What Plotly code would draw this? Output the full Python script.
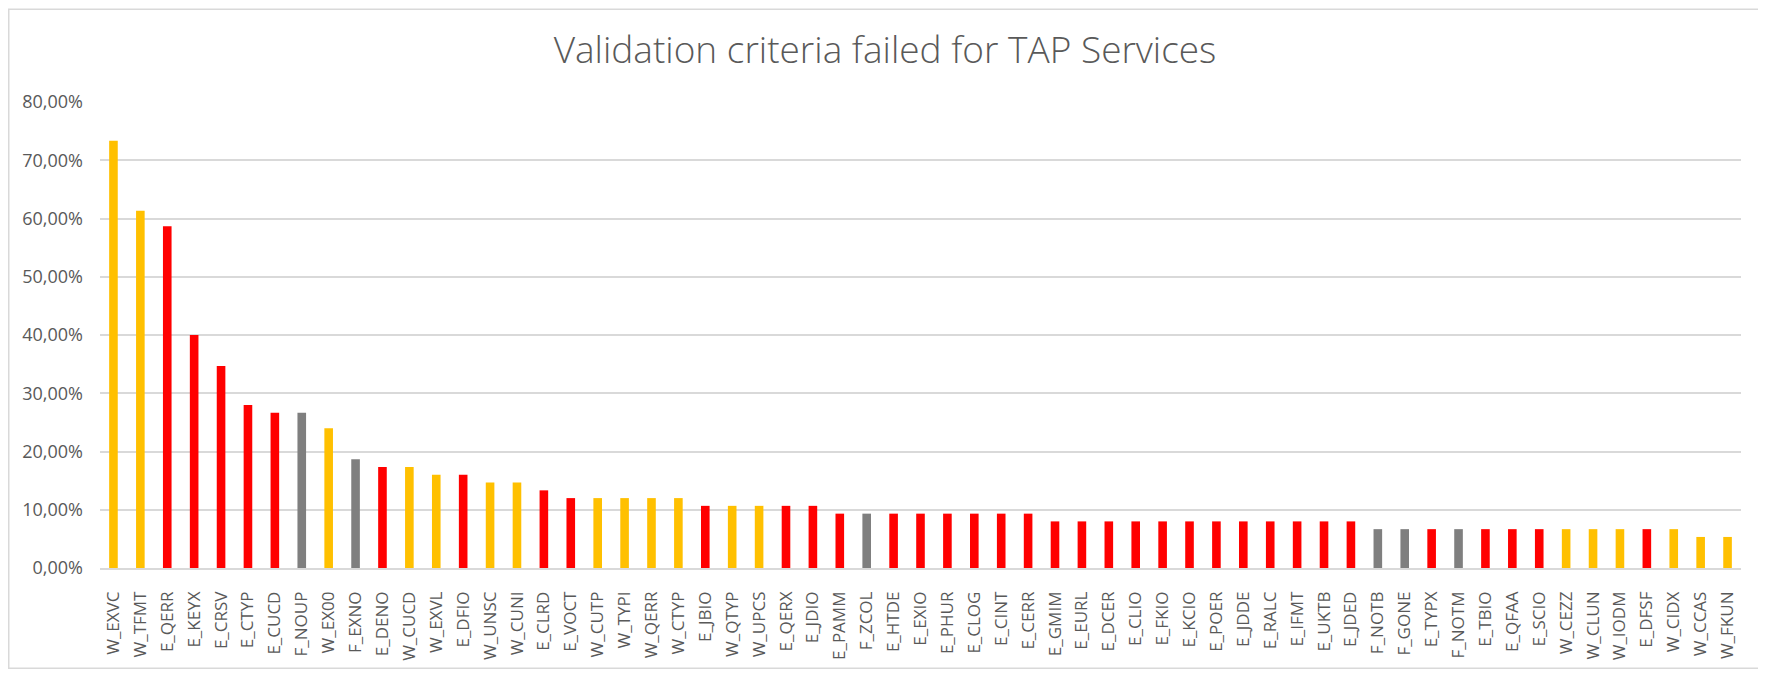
import plotly.graph_objects as go

categories = ["W_EXVC", "W_TFMT", "E_QERR", "E_KEYX", "E_CRSV", "E_CTYP", "E_CUCD", "F_NOUP",
              "W_EX00", "F_EXNO", "E_DENO", "W_CUCD", "W_EXVL", "E_DFIO", "W_UNSC", "W_CUNI",
              "E_CLRD", "E_VOCT", "W_CUTP", "W_TYPI", "W_QERR", "W_CTYP", "E_JBIO", "W_QTYP",
              "W_UPCS", "E_QERX", "E_JDIO", "E_PAMM", "F_ZCOL", "E_HTDE", "E_EXIO", "E_PHUR",
              "E_CLOG", "E_CINT", "E_CERR", "E_GMIM", "E_EURL", "E_DCER", "E_CLIO", "E_FKIO",
              "E_KCIO", "E_POER", "E_JDDE", "E_RALC", "E_IFMT", "E_UKTB", "E_JDED", "F_NOTB",
              "F_GONE", "E_TYPX", "F_NOTM", "E_TBIO", "E_QFAA", "E_SCIO", "W_CEZZ", "W_CLUN",
              "W_IODM", "E_DFSF", "W_CIDX", "W_CCAS", "W_FKUN"]

values = [0.7333, 0.6133, 0.5867, 0.4000, 0.3467, 0.2800, 0.2667, 0.2667,
          0.2400, 0.1867, 0.1733, 0.1733, 0.1600, 0.1600, 0.1467, 0.1467,
          0.1333, 0.1200, 0.1200, 0.1200, 0.1200, 0.1200, 0.1067, 0.1067,
          0.1067, 0.1067, 0.1067, 0.0933, 0.0933, 0.0933, 0.0933, 0.0933,
          0.0933, 0.0933, 0.0933, 0.0800, 0.0800, 0.0800, 0.0800, 0.0800,
          0.0800, 0.0800, 0.0800, 0.0800, 0.0800, 0.0800, 0.0800, 0.0667,
          0.0667, 0.0667, 0.0667, 0.0667, 0.0667, 0.0667, 0.0667, 0.0667,
          0.0667, 0.0667, 0.0667, 0.0533, 0.0533]

y_ticks = [0, 0.1, 0.2, 0.3, 0.4, 0.5, 0.6, 0.7, 0.8]

prefix_colors = {"W": "#FFC000", "E": "#FF0000", "F": "#7F7F7F"}
bar_colors = [prefix_colors[c[0]] for c in categories]

# page body has an 8px default margin, so the figure is sized to fill the rest
W, H = 1758, 665
ML, MR, MT, MB = 92, 25, 94, 102

fig = go.Figure(go.Bar(
    x=categories, y=values,
    marker=dict(color=bar_colors, line=dict(width=0)),
))

pw = W - ML - MR
ph = H - MT - MB

def px_x(p):
    return (p - ML) / pw

def px_y(p):
    return (H - MB - p) / ph

fig.update_layout(
    width=W, height=H,
    margin=dict(l=ML, r=MR, t=MT, b=MB),
    paper_bgcolor="white", plot_bgcolor="white",
    bargap=0.68,
    separators=",.",
    showlegend=False,
    font=dict(family="Open Sans", color="#595959"),
    title=dict(
        text="Validation criteria failed for TAP Services",
        font=dict(family="Open Sans", size=37, color="#595959", weight=300),
        x=877 / W, xref="container", xanchor="center",
        y=1 - 42 / H, yref="container", yanchor="middle",
    ),
    xaxis=dict(
        type="category",
        tickangle=-90,
        tickfont=dict(size=17, color="#595959"),
        showgrid=False,
        showline=True, linecolor="#D9D9D9", linewidth=1.5,
        ticks="", ticklabelstandoff=15,
        fixedrange=True,
    ),
    yaxis=dict(
        range=[0, 0.8],
        tickvals=y_ticks,
        tickformat=".2%",
        tickfont=dict(size=18, color="#595959"),
        showgrid=True, gridcolor="#D9D9D9", gridwidth=1.5,
        zeroline=False, showline=False,
        ticks="", ticklabelstandoff=16,
        fixedrange=True,
    ),
    shapes=[dict(
        type="rect", xref="paper", yref="paper",
        x0=px_x(0.75), x1=px_x(W - 1.5), y0=px_y(H - 1), y1=px_y(0.75),
        line=dict(color="#D9D9D9", width=1.5), fillcolor="rgba(0,0,0,0)",
        layer="below",
    )],
)

fig.write_html("out.html", config={"displayModeBar": False})
